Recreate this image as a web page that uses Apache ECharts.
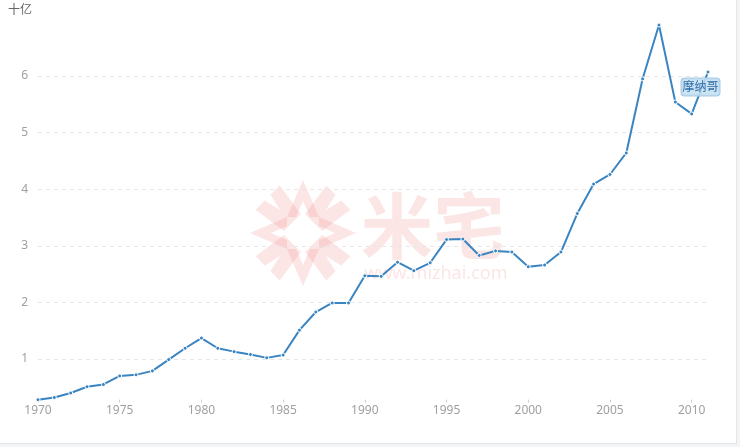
<!DOCTYPE html>
<html>
<head>
<meta charset="utf-8">
<script src="https://cdn.jsdelivr.net/npm/echarts@6/dist/echarts.min.js"></script>
<style>
html,body{margin:0;padding:0;background:#f3f4f6;}
#main{width:736px;height:443px;background:#fff;border-right:1px solid #e3e5e9;border-bottom:1px solid #e3e5e9;}
</style>
</head>
<body>
<div id="main"></div>
<script>
var years = [];
for (var y = 1970; y <= 2011; y++) years.push(String(y));
var values = [0.28,0.32,0.40,0.51,0.55,0.70,0.72,0.79,0.99,1.19,1.37,
  1.19,1.13,1.08,1.02,1.07,1.51,1.83,1.99,1.99,2.47,
  2.46,2.71,2.56,2.70,3.11,3.12,2.83,2.91,2.89,2.63,
  2.66,2.89,3.57,4.09,4.26,4.64,5.95,6.90,5.54,5.33,6.07];
var seriesName = '摩纳哥';
var unitLabel = '十亿';

var FONT = '"Noto Sans", "Noto Sans CJK SC", sans-serif';
var WM = 'rgba(242,150,150,0.25)';
var data = values.map(function (v, i) {
  if (i === values.length - 1) {
    return {
      value: v,
      label: {
        show: true,
        formatter: seriesName,
        position: [-24, 9],
        color: '#2d6da6',
        fontSize: 12,
        fontFamily: FONT,
        backgroundColor: 'rgba(195,222,242,0.85)',
        borderColor: '#a8cbe7',
        borderWidth: 1,
        borderRadius: 3,
        padding: [3, 1, 2, 1]
      }
    };
  }
  return v;
});

function iconParts() {
  var arr = [];
  for (var k = 0; k < 4; k++) {
    var ang = k * Math.PI / 2;
    arr.push({ type: 'polygon', x: 52, y: 52, rotation: ang, originX: 0, originY: 0,
      shape: { points: [[-16, -16], [0, -53], [16, -16], [7, -16], [0, -32], [-7, -16]] }, style: { fill: WM } });
    arr.push({ type: 'polygon', x: 52, y: 52, rotation: ang + Math.PI / 4, originX: 0, originY: 0,
      shape: { points: [[-12, -15], [12, -15], [17, -50], [4, -50], [0, -32], [-4, -50], [-17, -50]] }, style: { fill: WM } });
  }
  return arr;
}

var chart = echarts.init(document.getElementById('main'));
chart.setOption({
  animation: false,
  grid: { left: 38, right: 28, top: 19.4, bottom: 27.4 },
  graphic: [
    { type: 'text', left: 8, top: 5, style: { text: unitLabel, fill: '#666', font: '12px ' + FONT } },
    { type: 'group', left: 250, top: 180, silent: true, z: -10, children: iconParts() },
    { type: 'text', left: 361, top: 190, z: -10, silent: true, style: { text: '米宅', fill: WM, font: 'bold 72px "Noto Sans CJK SC", sans-serif' } },
    { type: 'text', left: 364, top: 265, z: -10, silent: true, style: { text: 'www.mizhai.com', fill: WM, font: '18px ' + FONT } }
  ],
  xAxis: {
    type: 'category',
    data: years,
    boundaryGap: false,
    offset: -16,
    axisLine: { show: false },
    axisTick: { show: true, interval: 4, length: 3, lineStyle: { color: '#d0d0d0' } },
    axisLabel: { interval: 4, color: '#a0a0a0', fontSize: 12, fontFamily: FONT, margin: 5 },
    splitLine: { show: false }
  },
  yAxis: {
    type: 'value',
    min: 0,
    max: 7,
    interval: 1,
    axisLine: { show: false },
    axisTick: { show: false },
    axisLabel: {
      color: '#a0a0a0', fontSize: 12, fontFamily: FONT, margin: 10,
      showMinLabel: false, showMaxLabel: false
    },
    splitLine: { show: true, showMinLine: false, showMaxLine: false, lineStyle: { color: '#e6e6e6', type: [4, 4] } }
  },
  series: [{
    name: seriesName,
    type: 'line',
    data: data,
    symbol: 'circle',
    symbolSize: 4,
    showSymbol: true,
    lineStyle: { color: '#3a85c1', width: 2 },
    itemStyle: { color: '#3a85c1', borderColor: '#fff', borderWidth: 1 }
  }]
});
</script>
</body>
</html>
